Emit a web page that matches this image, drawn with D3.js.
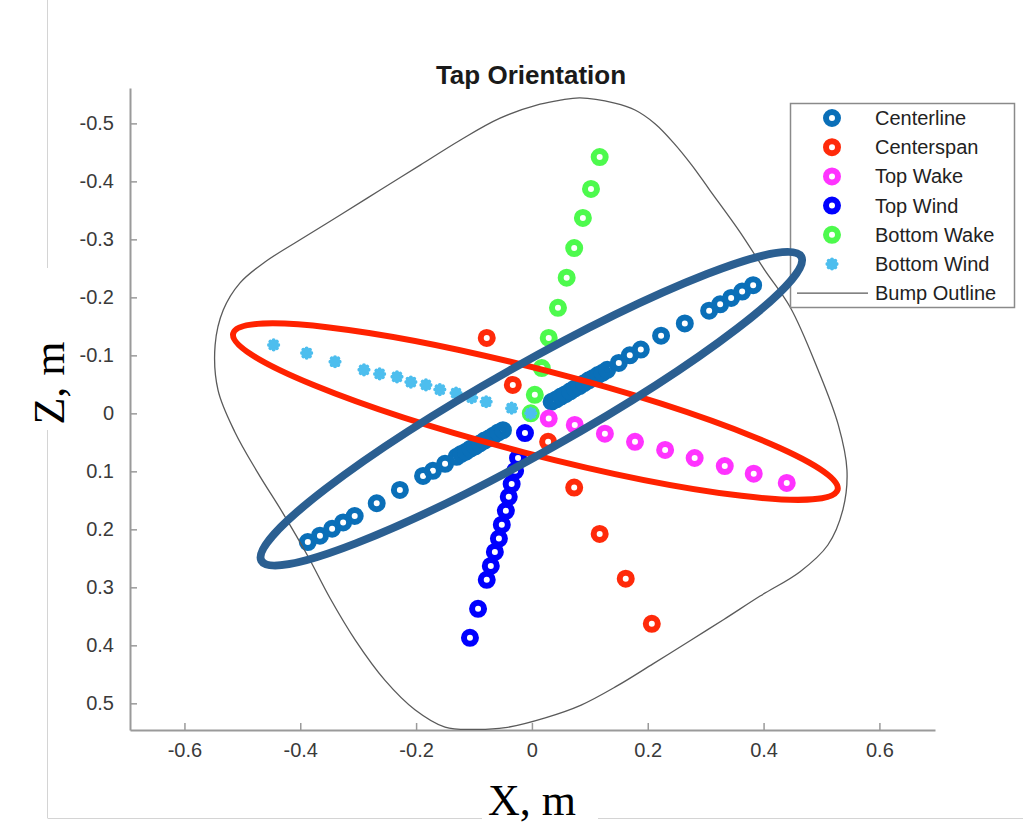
<!DOCTYPE html>
<html>
<head>
<meta charset="utf-8">
<script src="https://cdn.jsdelivr.net/npm/d3@7"></script>
<style>
  body { margin: 0; background: #fff; }
  svg { display: block; }
</style>
</head>
<body>
<div id="vis-container"></div>
<script>
// Dados (X, Z em metros)
const centerlineX = [-0.387, -0.366, -0.345, -0.326, -0.306, -0.268, -0.228, -0.188, -0.171, -0.150,
  -0.130, -0.122, -0.114, -0.106, -0.098, -0.090, -0.082, -0.074, -0.066, -0.058, -0.050,
  0.034, 0.042, 0.050, 0.058, 0.066, 0.074, 0.082, 0.090, 0.098, 0.106, 0.114, 0.122, 0.130,
  0.150, 0.169, 0.188, 0.223, 0.264, 0.306, 0.325, 0.344, 0.363, 0.382];
const centerlineZ = [0.222, 0.211, 0.199, 0.188, 0.177, 0.155, 0.132, 0.108, 0.099, 0.087,
  0.075, 0.070, 0.066, 0.061, 0.057, 0.052, 0.047, 0.043, 0.038, 0.033, 0.029,
  -0.020, -0.024, -0.029, -0.033, -0.038, -0.043, -0.047, -0.052, -0.057, -0.061, -0.066, -0.070, -0.075,
  -0.087, -0.100, -0.110, -0.134, -0.155, -0.177, -0.188, -0.199, -0.210, -0.221];

const centerspanX = [-0.078, -0.033, 0.028, 0.073, 0.117, 0.162, 0.207];
const centerspanZ = [-0.130, -0.049, 0.049, 0.128, 0.208, 0.285, 0.363];

const topWakeX = [0.029, 0.074, 0.126, 0.178, 0.230, 0.281, 0.333, 0.383, 0.440];
const topWakeZ = [0.009, 0.020, 0.035, 0.049, 0.063, 0.077, 0.091, 0.104, 0.120];

const topWindX = [-0.012, -0.024, -0.029, -0.035, -0.040, -0.045, -0.052, -0.057, -0.064, -0.071, -0.078, -0.093, -0.107];
const topWindZ = [0.034, 0.077, 0.099, 0.122, 0.144, 0.168, 0.192, 0.216, 0.239, 0.263, 0.287, 0.337, 0.387];

const bottomWakeX = [0.117, 0.102, 0.088, 0.073, 0.060, 0.045, 0.029, 0.017, 0.005, -0.002];
const bottomWakeZ = [-0.442, -0.387, -0.337, -0.285, -0.234, -0.182, -0.130, -0.078, -0.032, 0.000];

const bottomWindX = [-0.446, -0.389, -0.340, -0.290, -0.263, -0.233, -0.209, -0.183, -0.159, -0.131, -0.104, -0.079, -0.035, -0.002];
const bottomWindZ = [-0.118, -0.104, -0.089, -0.075, -0.068, -0.063, -0.054, -0.049, -0.041, -0.035, -0.027, -0.020, -0.009, 0.000];

// Contorno (Bump Outline), sentido horário a partir do topo
const outlineX = [0.083, 0.143, 0.178, 0.213, 0.245, 0.276, 0.307, 0.359, 0.402, 0.446, 0.494, 0.529, 0.544,
  0.537, 0.511, 0.463, 0.394, 0.332, 0.273, 0.209, 0.147, 0.085, 0.023, -0.046, -0.100, -0.150, -0.202,
  -0.254, -0.305, -0.349, -0.387, -0.430, -0.473, -0.513, -0.542, -0.547, -0.533, -0.504, -0.461, -0.401,
  -0.331, -0.262, -0.193, -0.124, -0.055, 0.014, 0.049];
const outlineZ = [-0.544, -0.535, -0.523, -0.499, -0.466, -0.428, -0.385, -0.313, -0.247, -0.183, -0.075, 0.020, 0.098,
  0.166, 0.227, 0.273, 0.315, 0.355, 0.392, 0.432, 0.470, 0.503, 0.525, 0.542, 0.545, 0.541, 0.511,
  0.460, 0.391, 0.318, 0.246, 0.172, 0.103, 0.032, -0.040, -0.118, -0.178, -0.225, -0.261, -0.299,
  -0.342, -0.385, -0.428, -0.471, -0.509, -0.533, -0.540];

// Elipses de anotação: centro, semi-eixos, ângulo (graus)
const ellipseNames = ["red", "blue"];
const ellipseCX = [0.006, -0.001];
const ellipseCZ = [-0.003, -0.008];
const ellipseA = [0.539, 0.535];
const ellipseB = [0.073, 0.076];
const ellipseAngle = [14.5, -29.4];
const ellipseColors = ["#ff2200", "#2b5f91"];

const seriesNames = ["Centerline", "Centerspan", "Top Wake", "Top Wind", "Bottom Wake", "Bottom Wind"];
const seriesColors = ["#0a6fb8", "#ff2a0a", "#ff33ff", "#0000ff", "#4dfa4d", "#4dbeee"];

const xTicks = [-0.6, -0.4, -0.2, 0, 0.2, 0.4, 0.6];
const xTickLabels = ["-0.6", "-0.4", "-0.2", "0", "0.2", "0.4", "0.6"];
const zTicks = [-0.5, -0.4, -0.3, -0.2, -0.1, 0, 0.1, 0.2, 0.3, 0.4, 0.5];
const zTickLabels = ["-0.5", "-0.4", "-0.3", "-0.2", "-0.1", "0", "0.1", "0.2", "0.3", "0.4", "0.5"];

// ––––––––––––––––––––––––––––––––––––––––––––––––––––––––––––––––––––––––

const seriesX = [centerlineX, centerspanX, topWakeX, topWindX, bottomWakeX, bottomWindX];
const seriesZ = [centerlineZ, centerspanZ, topWakeZ, topWindZ, bottomWakeZ, bottomWindZ];
const series = seriesNames.map((name, i) => ({
  name: name,
  color: seriesColors[i],
  points: seriesX[i].map((d, j) => ({ x: d, z: seriesZ[i][j] })),
}));

const width = 1023;
const height = 829;
const sansFont = "'Liberation Sans', Arial, Helvetica, sans-serif";
const serifFont = "'Liberation Serif', 'Times New Roman', serif";

const svg = d3.select("#vis-container").append("svg").attr("width", width).attr("height", height);

// Escalas (eixos iguais)
const x = d3.scaleLinear().domain([-0.694, 0.696]).range([130, 935]);
const z = d3.scaleLinear().domain([-0.561, 0.546]).range([88, 730]);

// Moldura clara da figura original
const frame = svg.append("g").attr("stroke", "#d4d4d4").attr("stroke-width", 1);
frame.append("line").attr("x1", 47.5).attr("x2", 47.5).attr("y1", 0).attr("y2", 268);
frame.append("line").attr("x1", 47.5).attr("x2", 47.5).attr("y1", 430).attr("y2", 818);
frame.append("line").attr("x1", 47.5).attr("x2", 482).attr("y1", 818.5).attr("y2", 818.5);
frame.append("line").attr("x1", 598).attr("x2", width).attr("y1", 818.5).attr("y2", 818.5);

// Eixos
const xAxis = d3.axisBottom(x).tickValues(xTicks).tickSizeInner(-7).tickSizeOuter(0).tickPadding(13)
  .tickFormat((d, i) => xTickLabels[i]);
const zAxis = d3.axisLeft(z).tickValues(zTicks).tickSizeInner(-7).tickSizeOuter(0).tickPadding(16)
  .tickFormat((d, i) => zTickLabels[i]);

const gx = svg.append("g").attr("transform", "translate(0,730)").call(xAxis);
const gz = svg.append("g").attr("transform", "translate(130,0)").call(zAxis);
[gx, gz].forEach((g) => {
  g.select(".domain").attr("stroke", "#9a9a9a").attr("stroke-width", 2);
  g.selectAll(".tick line").attr("stroke", "#9a9a9a").attr("stroke-width", 1.5);
  g.selectAll(".tick text").attr("fill", "#3a3a3a").style("font-family", sansFont).style("font-size", "20px");
});

// Título
svg.append("text")
  .attr("x", 531).attr("y", 84)
  .attr("text-anchor", "middle")
  .style("font-family", sansFont).style("font-size", "26px").style("font-weight", "bold")
  .attr("fill", "#1a1a1a")
  .text("Tap Orientation");

// Rótulos dos eixos
svg.append("text")
  .attr("x", 532).attr("y", 815)
  .attr("text-anchor", "middle")
  .style("font-family", serifFont).style("font-size", "44px")
  .attr("fill", "#000")
  .text("X, m");
svg.append("text")
  .attr("transform", "translate(64,383) rotate(-90)")
  .attr("text-anchor", "middle")
  .style("font-family", serifFont).style("font-size", "44px")
  .attr("fill", "#000")
  .text("Z, m");

// Marcador asterisco
function asterisk(r) {
  let p = "";
  [0, 45, 90, 135].forEach((a) => {
    const c = Math.cos((a * Math.PI) / 180) * r;
    const s = Math.sin((a * Math.PI) / 180) * r;
    p += `M${-c},${-s}L${c},${s}`;
  });
  return p;
}

// Séries de pontos
const plot = svg.append("g");
series.forEach((s) => {
  const g = plot.append("g");
  if (s.name === "Bottom Wind") {
    g.selectAll("path")
      .data(s.points)
      .enter()
      .append("path")
      .attr("transform", (d) => `translate(${x(d.x)},${z(d.z)})`)
      .attr("d", asterisk(4.6))
      .attr("stroke", s.color)
      .attr("stroke-width", 4)
      .attr("stroke-linecap", "round")
      .attr("fill", "none");
  } else {
    g.selectAll("circle")
      .data(s.points)
      .enter()
      .append("circle")
      .attr("cx", (d) => x(d.x))
      .attr("cy", (d) => z(d.z))
      .attr("r", 6)
      .attr("fill", "none")
      .attr("stroke", s.color)
      .attr("stroke-width", 6);
  }
});

// Contorno
const outline = outlineX.map((d, i) => [x(d), z(outlineZ[i])]);
svg.append("path")
  .attr("d", d3.line().curve(d3.curveCatmullRomClosed.alpha(0.5))(outline))
  .attr("fill", "none")
  .attr("stroke", "#5a5a5a")
  .attr("stroke-width", 1.3);

// Legenda
const legend = svg.append("g");
legend.append("rect")
  .attr("x", 790.5).attr("y", 103.5).attr("width", 224).attr("height", 204)
  .attr("fill", "#fff").attr("stroke", "#8a8a8a").attr("stroke-width", 1.5);

const legendNames = seriesNames.concat(["Bump Outline"]);
legendNames.forEach((name, i) => {
  const ly = 118 + i * 29.2;
  if (i < series.length) {
    if (name === "Bottom Wind") {
      legend.append("path")
        .attr("transform", `translate(832,${ly})`)
        .attr("d", asterisk(4.6))
        .attr("stroke", seriesColors[i]).attr("stroke-width", 4).attr("stroke-linecap", "round");
    } else {
      legend.append("circle")
        .attr("cx", 832).attr("cy", ly).attr("r", 6)
        .attr("fill", "none").attr("stroke", seriesColors[i]).attr("stroke-width", 6);
    }
  } else {
    legend.append("line")
      .attr("x1", 797).attr("x2", 868).attr("y1", ly).attr("y2", ly)
      .attr("stroke", "#5a5a5a").attr("stroke-width", 1.3);
  }
  legend.append("text")
    .attr("x", 875).attr("y", ly + 7)
    .style("font-family", sansFont).style("font-size", "20px")
    .attr("fill", "#222")
    .text(name);
});

// Elipses (por cima de tudo, inclusive da legenda)
const unit = x(1) - x(0);
ellipseNames.forEach((n, i) => {
  svg.append("ellipse")
    .attr("transform", `translate(${x(ellipseCX[i])},${z(ellipseCZ[i])}) rotate(${ellipseAngle[i]})`)
    .attr("rx", ellipseA[i] * unit)
    .attr("ry", ellipseB[i] * unit)
    .attr("fill", "none")
    .attr("stroke", ellipseColors[i])
    .attr("stroke-width", n === "blue" ? 8 : 6);
});
</script>
</body>
</html>
